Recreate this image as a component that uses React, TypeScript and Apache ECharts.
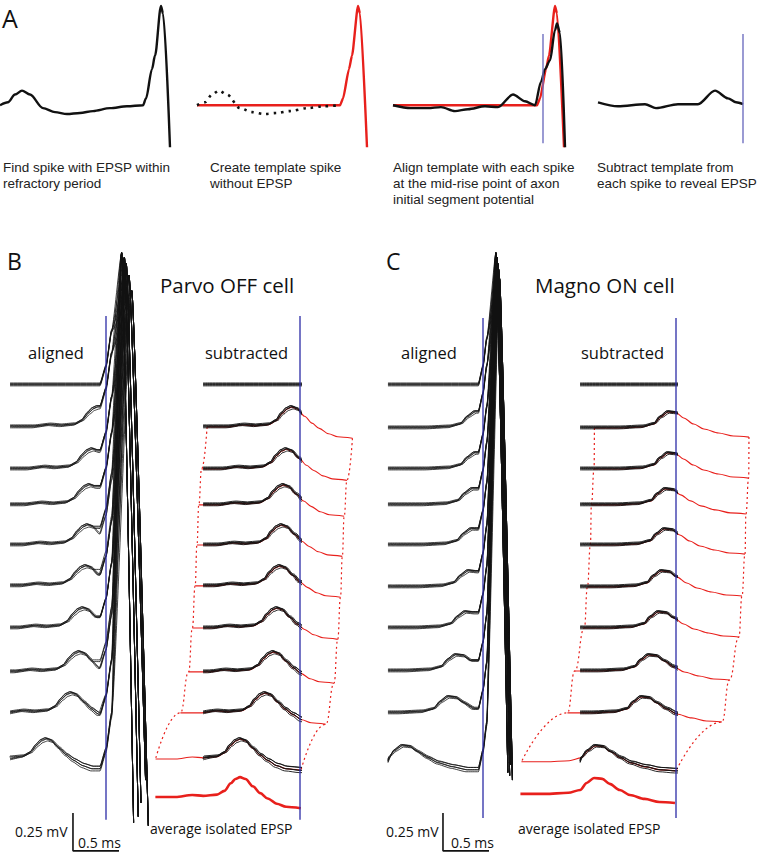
import React, { useEffect, useRef } from "react";
import * as echarts from "echarts";

// ================= DATA =================
// ---- Panel A (time in ms from the mid-rise point, voltage in mV from baseline) ----
const A_PRE_T = [-2.92, -2.76, -2.62, -2.48, -2.32, -2.06, -1.82, -1.58, -1.32, -1.06, -0.72, -0.38, -0.06];
const A_PRE_V = [0, 0.02, 0.073, 0.1, 0.073, -0.02, -0.047, -0.06, -0.053, -0.04, -0.02, -0.007, 0];
const A_SPIKE_T = [0, 0.12, 0.18, 0.3, 0.34, 0.48];
const A_SPIKE_V = [0.047, 0.247, 0.34, 0.68, 0.627, -0.287];
const A3_T = [-3.0, -2.64, -2.3, -2.04, -1.76, -1.5, -1.16, -0.9, -0.6, -0.36, -0.16, -0.04, 0.04, 0.14, 0.24, 0.28, 0.34, 0.44];
const A3_V = [0, -0.02, -0.02, -0.013, -0.04, -0.027, -0.007, -0.013, 0.073, 0.027, 0, 0.16, 0.247, 0.307, 0.513, 0.56, 0.493, -0.287];
const A4_T = [-2.9, -2.5, -1.96, -1.74, -1.3, -0.9, -0.56, -0.3, -0.14, 0];
const A4_V = [0.02, -0.007, 0.007, -0.02, 0.007, 0.007, 0.1, 0.047, 0.02, 0.007];
const A3_TEMPLATE_SHIFT = -0.06;
const A_MARKER_V = [0.487, -0.26];

// ---- Panels B and C ----
// row baselines (mV), EPSP latency relative to alignment point (ms)
const ROWS_B = [0, -0.276, -0.553, -0.789, -1.053, -1.322, -1.599, -1.888, -2.158, -2.461];
const LAT_B: (number | null)[] = [null, -0.09, -0.15, -0.18, -0.2, -0.22, -0.25, -0.29, -0.38, -0.65];
const ROWS_C = [0, -0.283, -0.553, -0.789, -1.053, -1.329, -1.599, -1.882, -2.158, -2.48];
const LAT_C: (number | null)[] = [null, -0.087, -0.09, -0.12, -0.13, -0.163, -0.196, -0.3, -0.38, -0.88];

// average isolated EPSP shapes (time from peak)
const EPSP_B_T = [-0.92, -0.7, -0.52, -0.4, -0.25, -0.17, -0.1, -0.05, 0, 0.06, 0.14, 0.22, 0.3, 0.4, 0.5, 0.66];
const EPSP_B_V = [0, 0, 0.013, 0.007, 0.015, 0.04, 0.09, 0.118, 0.13, 0.118, 0.07, 0.025, -0.01, -0.045, -0.065, -0.075];
const EPSP_C_T = [-0.8, -0.53, -0.28, -0.15, -0.08, 0, 0.09, 0.17, 0.28, 0.39, 0.55, 0.71, 0.88];
const EPSP_C_V = [0, 0, 0.007, 0.026, 0.072, 0.105, 0.099, 0.066, 0.026, -0.007, -0.033, -0.053, -0.06];

// overlapping sweeps within a row
const TRACE_AMP = [1, 0.85, 1.12, 0.94, 1.05];
const TRACE_DV = [0, 0.008, -0.006, 0.013, 0.004];
const TRACE_DT = [0, 0.015, -0.015, 0.008, -0.006];

// action potential outlines (rise relative to row, peak and end absolute)
const SPIKE_B_RISE_T = [-0.065, 0, 0.06];
const SPIKE_B_RISE_V = [0, 0.12, 0.35];
const SPIKE_B_PEAK_T = [0.17, 0.2, 0.22, 0.25, 0.28];
const SPIKE_B_PEAK_V = [0.87, 0.84, 0.8, 0.72, 0.62];
const SPIKE_B_END_T = [0.3, 0.35, 0.38, 0.43, 0.46];
const SPIKE_B_END_V = [-2.88, -2.84, -2.75, -2.6, -2.9];
const SPIKE_C_RISE_T = [-0.05, 0, 0.04];
const SPIKE_C_RISE_V = [0, 0.12, 0.3];
const SPIKE_C_PEAK_T = [0.14, 0.152, 0.16, 0.17, 0.18];
const SPIKE_C_PEAK_V = [0.87, 0.84, 0.8, 0.76, 0.7];
const SPIKE_C_END_T = [0.27, 0.29, 0.3, 0.31, 0.32];
const SPIKE_C_END_V = [-2.55, -2.57, -2.5, -2.45, -2.6];

const AVG_B = { peakT: -0.652, base: -2.711 };
const AVG_C = { peakT: -0.891, base: -2.691 };
const MARKER_B = [0.454, -2.862];
const MARKER_C = [0.441, -2.849];
const SCALE_MS = 0.5;
const SCALE_MV = 0.25;

// ================= LAYOUT =================
const W = 758, H = 853;
const PX_MS = 92, PX_MV = 152;
const BLACK = "#111111";
const RED = "#e8201c";
const BLUE = "#2b2ba6";
const BLUE_A = "#7070c0";
const FONT_CAP = '"Liberation Sans", Arial, sans-serif';
const FONT_LBL = '"Open Sans", "Noto Sans", sans-serif';

type GSpec = { xAlign: number; yZero: number; tMin: number; tMax: number; vMin: number; vMax: number; pxMs: number; pxMv: number };

function buildOption() {
  const grids: any[] = [], xAxes: any[] = [], yAxes: any[] = [], series: any[] = [];
  const addGrid = (g: GSpec) => {
    const i = grids.length;
    grids.push({ show: false, left: g.xAlign + g.tMin * g.pxMs, top: g.yZero - g.vMax * g.pxMv, width: (g.tMax - g.tMin) * g.pxMs, height: (g.vMax - g.vMin) * g.pxMv });
    xAxes.push({ type: "value", gridIndex: i, min: g.tMin, max: g.tMax, show: false, splitLine: { show: false } });
    yAxes.push({ type: "value", gridIndex: i, min: g.vMin, max: g.vMax, show: false, splitLine: { show: false } });
    return i;
  };
  const line = (gi: number, data: number[][], color: string, width: number, o: any = {}) => {
    series.push({
      type: "line", xAxisIndex: gi, yAxisIndex: gi, data, symbol: "none", silent: true,
      smooth: o.smooth ?? 0, smoothMonotone: "x", clip: o.clip ?? true,
      lineStyle: { color, width, type: o.type ?? "solid", cap: o.cap ?? "butt", opacity: o.opacity ?? 1 }, z: o.z ?? 2,
    });
  };
  const zip = (t: number[], v: number[], dt = 0, dv = 0) => t.map((x, i) => [x + dt, v[i] + dv]);

  // ---------- Panel A ----------
  const aSpec = { yZero: 104, vMin: -0.32, vMax: 0.72, pxMs: 50, pxMv: 150 };
  const a1 = addGrid({ ...aSpec, xAlign: 146, tMin: -2.92, tMax: 0.6 });
  const a2 = addGrid({ ...aSpec, xAlign: 343, tMin: -3.0, tMax: 0.6 });
  const a3 = addGrid({ ...aSpec, xAlign: 543, tMin: -3.1, tMax: 0.6 });
  const a4 = addGrid({ ...aSpec, xAlign: 743, tMin: -3.1, tMax: 0.3 });
  const pre = zip(A_PRE_T, A_PRE_V);
  const spk = zip(A_SPIKE_T, A_SPIKE_V);
  line(a1, [...pre, ...spk], BLACK, 2.4, { smooth: 0.3 });
  line(a2, [[A_PRE_T[0], 0], [A_PRE_T[A_PRE_T.length - 1], 0], ...spk], RED, 2.4, { smooth: 0.2 });
  line(a2, pre, BLACK, 2.6, { smooth: 0.3, type: [2.5, 5] });
  line(a3, [[A3_T[0], 0], [A_PRE_T[A_PRE_T.length - 1] + A3_TEMPLATE_SHIFT, 0], ...zip(A_SPIKE_T, A_SPIKE_V, A3_TEMPLATE_SHIFT)], RED, 2.4, { smooth: 0.2 });
  line(a3, zip(A3_T, A3_V), BLACK, 2.4, { smooth: 0.3, z: 3 });
  line(a3, [[0, A_MARKER_V[0]], [0, A_MARKER_V[1]]], BLUE_A, 1.4, { z: 4 });
  line(a4, zip(A4_T, A4_V), BLACK, 2.4, { smooth: 0.3 });
  line(a4, [[0, A_MARKER_V[0]], [0, A_MARKER_V[1]]], BLUE_A, 1.4, { z: 4 });

  // ---------- Panels B & C ----------
  const panel = (cfg: any) => {
    const common = { yZero: 385, vMin: -3.08, vMax: 0.96, pxMs: PX_MS, pxMv: PX_MV };
    const gAl = addGrid({ ...common, xAlign: cfg.xAl, tMin: cfg.alMin, tMax: cfg.alMax });
    const gSb = addGrid({ ...common, xAlign: cfg.xSub, tMin: -1.2, tMax: 0 });
    const gSr = addGrid({ ...common, xAlign: cfg.xSub, tMin: -1.75, tMax: cfg.redMax });
    const shT: number[] = cfg.shT, shV: number[] = cfg.shV;

    const epspPts = (base: number, lat: number | null, tStart: number, cutoff: number, k: number) => {
      const pts: number[][] = [[tStart, base + TRACE_DV[k]]];
      let last = 0;
      if (lat !== null) {
        for (let i = 0; i < shT.length; i++) {
          const t = shT[i] + lat + TRACE_DT[k];
          if (t <= tStart || t >= cutoff) continue;
          last = TRACE_AMP[k] * shV[i];
          pts.push([t, base + TRACE_DV[k] + last]);
        }
      }
      return { pts, last };
    };

    // red copies of the average EPSP (under black sweeps)
    const leftEnds: number[][] = [], rightEnds: number[][] = [];
    cfg.rows.forEach((base: number, r: number) => {
      const lat = cfg.lat[r];
      if (lat === null) return;
      const d = zip(shT, shV, lat, base);
      line(gSr, d, RED, 1.1, { smooth: 0.3, clip: false, z: 1 });
      leftEnds.push(d[0]);
      rightEnds.push(d[d.length - 1]);
    });
    line(gSr, leftEnds, RED, 1.2, { smooth: 0.5, clip: false, type: [2, 3], z: 1 });
    line(gSr, rightEnds, RED, 1.2, { smooth: 0.5, clip: false, type: [2, 3], z: 1 });
    // average isolated EPSP
    line(gSr, zip(shT, shV, cfg.avg.peakT, cfg.avg.base), RED, 2.6, { smooth: 0.3, clip: false });

    cfg.rows.forEach((base: number, r: number) => {
      const lat = cfg.lat[r];
      for (let k = 0; k < TRACE_AMP.length; k++) {
        // subtracted sweeps
        const s = epspPts(base, lat, cfg.subStart, Infinity, k);
        const sp = s.pts;
        if (sp[sp.length - 1][0] < 0.05) sp.push([0.05, base + TRACE_DV[k] + s.last]);
        line(gSb, sp, BLACK, 0.9, { smooth: 0.3, z: 3 });
        // aligned sweeps with spike
        const a = epspPts(base, lat, cfg.alStart, cfg.riseT[0], k);
        const ap = a.pts;
        cfg.riseT.forEach((t: number, i: number) => ap.push([t, base + TRACE_DV[k] + a.last + cfg.riseV[i]]));
        ap.push([cfg.peakT[k], cfg.peakV[k]]);
        ap.push([cfg.endT[k], cfg.endV[k]]);
        line(gAl, ap, BLACK, 0.8, { smooth: 0.15, z: 3 });
      }
    });
    // alignment markers
    line(gAl, [[0, cfg.marker[0]], [0, cfg.marker[1]]], BLUE, 1.3, { z: 5, clip: false });
    line(gSr, [[0, cfg.marker[0]], [0, cfg.marker[1]]], BLUE, 1.3, { z: 5, clip: false });
    // scale bar
    const sb = cfg.scale;
    line(gAl, [[sb[0], sb[1] + SCALE_MV], [sb[0], sb[1]], [sb[0] + SCALE_MS, sb[1]]], BLACK, 1.6, { clip: false, z: 5 });
  };

  panel({
    xAl: 106, alMin: -1.152, alMax: 0.6, alStart: -1.043, xSub: 300, subStart: -1.054, redMax: 0.75,
    rows: ROWS_B, lat: LAT_B, shT: EPSP_B_T, shV: EPSP_B_V, avg: AVG_B, marker: MARKER_B,
    riseT: SPIKE_B_RISE_T, riseV: SPIKE_B_RISE_V, peakT: SPIKE_B_PEAK_T, peakV: SPIKE_B_PEAK_V,
    endT: SPIKE_B_END_T, endV: SPIKE_B_END_V, scale: [-0.359, -3.066],
  });
  panel({
    xAl: 483, alMin: -1.1, alMax: 0.5, alStart: -1.033, xSub: 676, subStart: -1.043, redMax: 0.88,
    rows: ROWS_C, lat: LAT_C, shT: EPSP_C_T, shV: EPSP_C_V, avg: AVG_C, marker: MARKER_C,
    riseT: SPIKE_C_RISE_T, riseV: SPIKE_C_RISE_V, peakT: SPIKE_C_PEAK_T, peakV: SPIKE_C_PEAK_V,
    endT: SPIKE_C_END_T, endV: SPIKE_C_END_V, scale: [-0.435, -3.066],
  });

  const txt = (text: string, x: number, baseline: number, size: number, family: string, fill = "#111") => ({
    type: "text", x, y: baseline - 0.35 * size, silent: true,
    style: { text, fontSize: size, fontFamily: family, fill, align: "left", verticalAlign: "middle" },
  });
  const graphic = [
    txt("A", 2, 27, 25, FONT_LBL),
    txt("B", 7, 269, 23, FONT_LBL),
    txt("C", 386, 269, 23, FONT_LBL),
    txt("Find spike with EPSP within", 3, 172, 13.5, FONT_CAP, "#222"),
    txt("refractory period", 3, 188, 13.5, FONT_CAP, "#222"),
    txt("Create template spike", 210, 172, 13.5, FONT_CAP, "#222"),
    txt("without EPSP", 210, 188, 13.5, FONT_CAP, "#222"),
    txt("Align template with each spike", 393, 172, 13.5, FONT_CAP, "#222"),
    txt("at the mid-rise point of axon", 393, 188, 13.5, FONT_CAP, "#222"),
    txt("initial segment potential", 393, 204, 13.5, FONT_CAP, "#222"),
    txt("Subtract template from", 597, 172, 13.5, FONT_CAP, "#222"),
    txt("each spike to reveal EPSP", 597, 188, 13.5, FONT_CAP, "#222"),
    txt("Parvo OFF cell", 160, 292, 20.5, FONT_LBL),
    txt("Magno ON cell", 535, 292, 20.5, FONT_LBL),
    txt("aligned", 28, 358, 16.5, FONT_LBL),
    txt("subtracted", 205, 358, 16.5, FONT_LBL),
    txt("aligned", 401, 358, 16.5, FONT_LBL),
    txt("subtracted", 581, 358, 16.5, FONT_LBL),
    txt("0.25 mV", 15, 836, 14, FONT_LBL),
    txt("0.5 ms", 78, 847, 14, FONT_LBL),
    txt("average isolated EPSP", 150, 833, 14, FONT_LBL),
    txt("0.25 mV", 386, 836, 14, FONT_LBL),
    txt("0.5 ms", 451, 847, 14, FONT_LBL),
    txt("average isolated EPSP", 518, 833, 14, FONT_LBL),
  ];

  return { animation: false, backgroundColor: "#ffffff", grid: grids, xAxis: xAxes, yAxis: yAxes, series, graphic };
}

export default function App() {
  const ref = useRef<HTMLDivElement>(null);
  useEffect(() => {
    const chart = echarts.init(ref.current!, null, { renderer: "svg" });
    chart.setOption(buildOption() as any);
    return () => chart.dispose();
  }, []);
  return <div ref={ref} style={{ position: "fixed", left: 0, top: 0, width: W, height: H, background: "#fff" }} />;
}
